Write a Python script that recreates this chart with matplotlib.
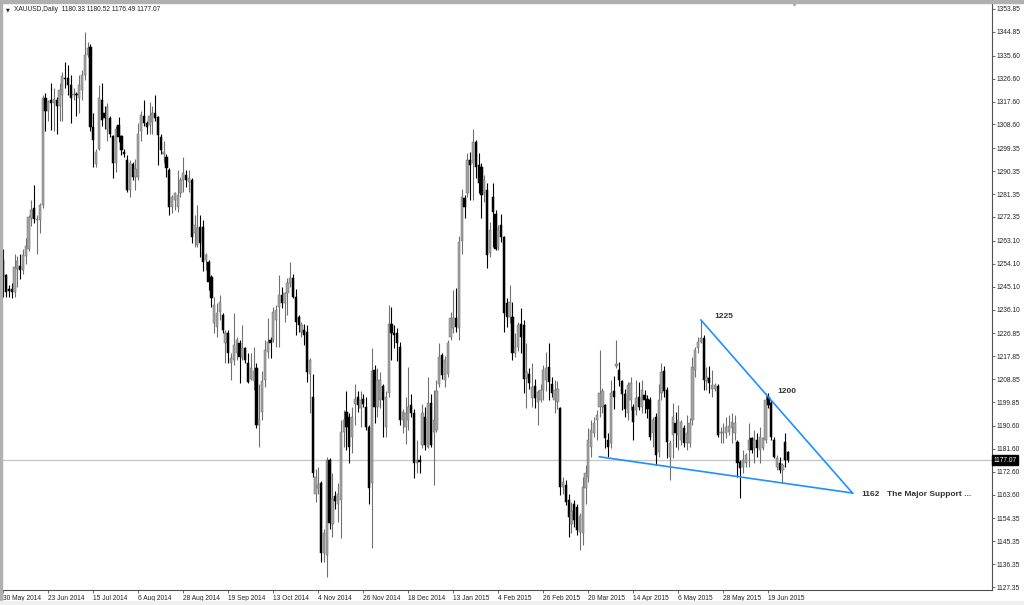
import matplotlib
matplotlib.use('Agg')  # 无显示环境
import matplotlib.pyplot as plt
from matplotlib.patches import Rectangle
import numpy as np

plt.rcParams['font.family'] = ['Liberation Sans', 'DejaVu Sans']

# 数据: XAUUSD 日线
symbol = "XAUUSD,Daily"

opens = [
    1255.5, 1249.6, 1244, 1244, 1243, 1252, 1253, 1251.5, 1257, 1260,
    1272, 1276, 1271, 1271, 1277, 1319, 1314, 1318, 1317, 1318,
    1316, 1320, 1327, 1327, 1324, 1320, 1320.5, 1319, 1322, 1328,
    1336, 1339, 1307.8, 1293, 1299, 1318, 1313, 1307, 1311, 1304,
    1293.5, 1308.5, 1304, 1298, 1294.7, 1283, 1293, 1288, 1288, 1306,
    1312, 1309, 1308.5, 1309.5, 1313, 1311.5, 1303.8, 1297, 1296, 1290.8,
    1276.4, 1279, 1276.4, 1281.6, 1286.8, 1288.8, 1286, 1286.8, 1266, 1261.3,
    1268.6, 1268.6, 1255.5, 1254.9, 1249, 1231, 1229.4, 1235, 1233.9, 1222.9,
    1226.8, 1215, 1216.3, 1219, 1222.9, 1217.6, 1220.9, 1215, 1209, 1208,
    1213, 1191, 1196, 1208.5, 1219.6, 1224.2, 1224.2, 1232, 1237.2, 1241.8,
    1238.5, 1242.4, 1246.4, 1248.3, 1241.1, 1233.3, 1227.4, 1228, 1227.4, 1211,
    1201.9, 1164, 1166, 1168, 1140.6, 1140, 1177, 1152, 1163, 1160,
    1161.4, 1188, 1196, 1194, 1186, 1199, 1202, 1197.4, 1201, 1198,
    1190.2, 1168, 1212.4, 1198, 1200.6, 1206, 1190, 1203.3, 1230.6, 1227,
    1227, 1221.5, 1192.8, 1190, 1193, 1198.6, 1195.4, 1176, 1177, 1183,
    1194, 1182.4, 1199.3, 1188, 1188.9, 1207, 1218.2, 1208.5, 1211, 1225.5,
    1228.7, 1232.6, 1228.7, 1263, 1279.6, 1281.6, 1294.7, 1293.4, 1301.9, 1292.7,
    1292, 1281.6, 1283, 1258.1, 1280, 1273.7, 1260.7, 1269.2, 1264.6, 1238.5,
    1233, 1233.3, 1219, 1221.6, 1230.6, 1230, 1209.1, 1211, 1201.3, 1206,
    1200, 1200.6, 1204.6, 1208.5, 1213.7, 1207, 1200.6, 1200, 1197.4, 1166.7,
    1167.4, 1161.5, 1152, 1160, 1158.8, 1149, 1148.4, 1166, 1170.6, 1182.4,
    1187.6, 1192.8, 1198, 1198, 1198.7, 1185, 1183.7, 1204, 1214, 1212.4,
    1208, 1203, 1195.4, 1200.6, 1198, 1196.7, 1202, 1198, 1202.6, 1201,
    1200.6, 1187.6, 1194, 1180.4, 1203.2, 1212, 1204.6, 1178.5, 1187, 1191.5,
    1187, 1185, 1189.5, 1183.7, 1183.7, 1192.8, 1212.4, 1220.9, 1223.5, 1224.8,
    1208, 1209.1, 1205, 1205, 1206, 1187.6, 1187.6, 1187.6, 1188, 1189.5,
    1187.6, 1184.3, 1176.5, 1174.5, 1175.8, 1181, 1185.6, 1181.7, 1185, 1181,
    1181.7, 1185, 1201.9, 1199.3, 1185, 1174.5, 1175.8, 1173.2, 1184.3, 1180.33,
]

highs = [
    1260, 1250, 1245.7, 1246.5, 1258, 1257, 1258, 1260, 1264, 1273,
    1279, 1285, 1273, 1278, 1320, 1321, 1318, 1325, 1323, 1319.5,
    1325, 1329, 1333, 1332, 1328, 1323, 1321.5, 1328, 1330, 1345,
    1341, 1340, 1313, 1299, 1324, 1325, 1316, 1317, 1312, 1304.5,
    1308, 1311.6, 1304.5, 1299, 1296.7, 1294.7, 1294, 1295, 1309, 1314,
    1318, 1310, 1317.5, 1316, 1320, 1312, 1305, 1302, 1297, 1291.4,
    1281, 1282.3, 1290.8, 1288.1, 1296, 1290.8, 1290.8, 1287.5, 1273.1, 1277,
    1273, 1271.2, 1258.1, 1255.5, 1249.5, 1241, 1238.5, 1241.8, 1234.6, 1228,
    1228, 1219, 1234.6, 1225.5, 1224, 1230, 1221.6, 1218.9, 1218.9, 1221.6,
    1215, 1207, 1212, 1224, 1232.6, 1225.5, 1237.2, 1237.8, 1249.6, 1245,
    1243, 1248.3, 1254.8, 1250, 1244, 1234, 1231.3, 1230.6, 1230, 1217,
    1211, 1173.8, 1174.5, 1169, 1150, 1178.4, 1178, 1171.9, 1165, 1168,
    1192.8, 1196.7, 1204, 1195.4, 1198, 1207, 1204, 1204, 1203, 1202,
    1191, 1221, 1214.4, 1213, 1211.7, 1207, 1204, 1237.8, 1237, 1230,
    1229, 1223.5, 1197, 1201.9, 1213.7, 1203, 1197, 1185, 1179, 1199,
    1198, 1209.8, 1203, 1204.6, 1208.5, 1222.9, 1218.9, 1218, 1224, 1235.2,
    1243.7, 1244.4, 1265, 1283.5, 1281, 1297.3, 1297.9, 1307, 1302.5, 1297.3,
    1293.4, 1288.8, 1285.5, 1270.5, 1285.5, 1275, 1269.2, 1273.7, 1265, 1240.5,
    1245.7, 1239, 1226.8, 1231.3, 1236.5, 1232, 1222.9, 1213, 1215, 1209,
    1204.6, 1207, 1214.4, 1219.6, 1222.9, 1209.8, 1208.5, 1208, 1198, 1170.6,
    1169.3, 1164, 1160.8, 1161.5, 1160, 1156.2, 1170.6, 1175.2, 1189.5, 1192.8,
    1194, 1196.7, 1220.2, 1205.2, 1199, 1187.6, 1208.5, 1210, 1224.1, 1215.7,
    1208.5, 1205, 1207.8, 1209.8, 1199, 1208.5, 1207.8, 1208.5, 1204.6, 1202.6,
    1201.9, 1194, 1195.4, 1207, 1215, 1214, 1205.9, 1185, 1199.3, 1196,
    1198.7, 1193, 1190.8, 1194.7, 1193.5, 1217.6, 1221.6, 1225.5, 1232, 1226,
    1213.7, 1214, 1212.4, 1207.2, 1207, 1190, 1191.5, 1194, 1194.7, 1195.4,
    1194.7, 1184.9, 1177, 1181, 1179.8, 1191.5, 1186.3, 1188.9, 1187.6, 1190.2,
    1186.3, 1203.2, 1203.2, 1200.6, 1186.3, 1179, 1178.4, 1175.8, 1187.6, 1180.52,
]

lows = [
    1241, 1241, 1241.1, 1240.5, 1241, 1245, 1248, 1250, 1254, 1259,
    1269, 1270, 1258, 1266, 1276, 1306, 1310, 1306.5, 1306, 1305,
    1310, 1310, 1323, 1320, 1309, 1318, 1312, 1313, 1318, 1326,
    1335, 1306, 1292, 1292, 1298.5, 1308, 1307, 1302, 1303.5, 1287.5,
    1290, 1301.9, 1296.6, 1296, 1282.3, 1280.3, 1286.8, 1283, 1287, 1302,
    1308, 1305, 1305, 1305, 1310, 1292.7, 1297, 1293.5, 1288.2, 1273.1,
    1273.8, 1275.1, 1274.4, 1280.3, 1282.3, 1284.2, 1282.3, 1262, 1260.7, 1260.7,
    1256.8, 1251, 1251.6, 1243.7, 1237.2, 1226.8, 1225.5, 1232, 1226.8, 1215,
    1215, 1208.5, 1214.4, 1216.3, 1207.2, 1216.3, 1215, 1207.2, 1208.5, 1204.6,
    1189.5, 1182.4, 1193, 1205.9, 1217, 1217, 1223.5, 1221.6, 1221.6, 1236.5,
    1231.3, 1234, 1245, 1240.5, 1226.1, 1227.4, 1225.5, 1222.2, 1207.8, 1195.4,
    1170.5, 1160.8, 1164, 1137.3, 1137, 1131.4, 1150, 1147, 1158, 1153,
    1146.4, 1182.4, 1181, 1175.8, 1180, 1190.8, 1196, 1190.2, 1198, 1189,
    1160, 1142.5, 1191.5, 1194, 1197.4, 1186.3, 1186.3, 1202, 1216.3, 1221,
    1216, 1190.8, 1187.6, 1183.6, 1188.9, 1194, 1169.9, 1172, 1172, 1181.7,
    1181, 1181.7, 1182.4, 1167.4, 1188.2, 1205.9, 1209, 1205.9, 1209.8, 1224,
    1226.8, 1227.4, 1224, 1258, 1271.8, 1280.3, 1279, 1279, 1287.5, 1281.6,
    1271.8, 1278.3, 1252.2, 1256.8, 1260.7, 1259.4, 1259.4, 1262.7, 1227.4, 1229.4,
    1231, 1216.3, 1217.6, 1220, 1218.9, 1203.3, 1197.4, 1205, 1198, 1197.4,
    1190.8, 1200, 1200.6, 1204, 1200.6, 1201.9, 1195.4, 1197, 1163.4, 1164,
    1159.5, 1147.1, 1148.4, 1151, 1147.7, 1141.9, 1143.8, 1160, 1168.6, 1178.4,
    1186.3, 1185, 1194, 1195.4, 1181.7, 1178.4, 1181.7, 1197, 1213, 1206,
    1196.7, 1194, 1192.8, 1196.7, 1185, 1194.7, 1196.7, 1195.4, 1195.4, 1193.5,
    1184.9, 1182.4, 1175.2, 1178.4, 1200.6, 1202, 1177.8, 1169.3, 1177.8, 1182.4,
    1181, 1183, 1182.4, 1181, 1182.4, 1190.8, 1209.8, 1219, 1222.9, 1204.6,
    1204.6, 1203.2, 1202, 1204, 1186.3, 1183.7, 1183.7, 1185.6, 1187, 1183.7,
    1185, 1170.6, 1162.1, 1171.9, 1174.5, 1174.5, 1179.8, 1175.8, 1178.4, 1175.8,
    1181, 1183.7, 1197.4, 1184.9, 1177.8, 1173.2, 1171.9, 1168, 1174.5, 1176.49,
]

closes = [
    1249, 1243, 1243.5, 1243, 1252.8, 1255, 1251.5, 1257.5, 1261, 1272.5,
    1275, 1271.5, 1271.5, 1277, 1319, 1314, 1317.5, 1317, 1318.5, 1316,
    1322, 1327.5, 1326.5, 1324, 1319, 1320.5, 1320, 1324, 1328, 1336,
    1338.5, 1307.5, 1302.5, 1298, 1319, 1310.5, 1311, 1315.5, 1305, 1293.5,
    1307, 1303.8, 1298.6, 1297, 1283, 1293.4, 1288, 1291, 1305, 1312.3,
    1309, 1307.8, 1312, 1313, 1311, 1304.5, 1298.6, 1298, 1291.4, 1276.4,
    1280.3, 1281.6, 1281, 1286.8, 1289.5, 1286.8, 1287.5, 1264.6, 1269.2, 1267.9,
    1262, 1254.9, 1257.5, 1247, 1240.5, 1238, 1234.6, 1239, 1228.1, 1226.8,
    1219, 1217, 1222.2, 1224, 1217.6, 1220.9, 1216.3, 1207.8, 1213, 1212,
    1190.8, 1193, 1208, 1220.2, 1223.5, 1222.9, 1235.3, 1236, 1241.8, 1238.5,
    1242.4, 1246.4, 1248.3, 1241.1, 1231.3, 1230, 1230, 1226.1, 1211.7, 1216.3,
    1171.9, 1170.5, 1167.4, 1140.6, 1148.4, 1177.1, 1152.3, 1162, 1161, 1164,
    1188.2, 1192.8, 1190, 1182.4, 1194, 1201, 1198.5, 1200.6, 1199, 1190.2,
    1166, 1212, 1198, 1208.5, 1208.5, 1200.6, 1202, 1230.6, 1226.8, 1226,
    1222.9, 1192.8, 1196, 1195.5, 1198, 1195.4, 1175.8, 1177, 1176.5, 1195.4,
    1183, 1199.3, 1183, 1192.8, 1204, 1217.6, 1210.4, 1216.3, 1222.9, 1232.6,
    1232.6, 1229.4, 1262.7, 1280, 1276.4, 1294.7, 1292.7, 1301.9, 1292.1, 1285.5,
    1281, 1286.8, 1257.5, 1267.3, 1274.4, 1260, 1267.3, 1264.6, 1234.6, 1233.3,
    1239, 1218.9, 1221.6, 1230, 1225.5, 1209, 1211.7, 1207.2, 1205.9, 1201.3,
    1203.9, 1204.6, 1212.4, 1213, 1207.8, 1203.2, 1204.6, 1205, 1166.7, 1168.6,
    1160.8, 1154.9, 1157, 1153.6, 1149.7, 1155, 1166.7, 1171.9, 1185, 1188.9,
    1191.5, 1194.7, 1203.2, 1204, 1185.6, 1182.4, 1203.2, 1202, 1214.8, 1208.5,
    1203, 1197, 1206.5, 1207.2, 1192, 1201.3, 1198, 1204.6, 1200.6, 1197,
    1186.3, 1192.8, 1179.1, 1200.6, 1211.7, 1204, 1184.3, 1183.7, 1194, 1187.6,
    1192.8, 1192, 1183.7, 1187.6, 1191.5, 1213.7, 1220.2, 1223.5, 1224.8, 1208.5,
    1209.8, 1207.2, 1206.5, 1206.5, 1186.9, 1188, 1188.2, 1190, 1190.5, 1192,
    1191.5, 1175.8, 1174, 1177, 1179, 1185, 1181, 1185, 1181.7, 1186.3,
    1185.6, 1200.6, 1198.7, 1186.3, 1178.4, 1177.8, 1173.2, 1175.2, 1177.1, 1177.07,
]

# 横轴日期标签 (每16根K线一个)
date_labels = [
    "30 May 2014", "23 Jun 2014", "15 Jul 2014", "6 Aug 2014", "28 Aug 2014",
    "19 Sep 2014", "13 Oct 2014", "4 Nov 2014", "26 Nov 2014", "18 Dec 2014",
    "13 Jan 2015", "4 Feb 2015", "26 Feb 2015", "20 Mar 2015", "14 Apr 2015",
    "6 May 2015", "28 May 2015", "19 Jun 2015",
]
label_step = 16

price_ticks = [
    1353.85, 1344.85, 1335.60, 1326.60, 1317.60, 1308.60, 1299.35, 1290.35,
    1281.35, 1272.35, 1263.10, 1254.10, 1245.10, 1236.10, 1226.85, 1217.85,
    1208.85, 1199.85, 1190.60, 1181.60, 1172.60, 1163.60, 1154.35, 1145.35,
    1136.35, 1127.35,
]

# 趋势线 (K线序号, 价格)
upper_line_x = [248, 301.9]
upper_line_y = [1232.0, 1164.2]
lower_line_x = [211.9, 301.9]
lower_line_y = [1178.4, 1164.2]

note_labels = ["1225", "1200", "1162"]
support_text = "The Major Support ..."

# 画布
W, H = 1024, 605
fig = plt.figure(figsize=(W / 100, H / 100), dpi=100)
fig.patch.set_facecolor('white')
ax = fig.add_axes([3 / W, (H - 590) / H, (992 - 3) / W, (590 - 3) / H])
ax.set_facecolor('white')

o = np.array(opens)
h = np.array(highs)
l = np.array(lows)
c = np.array(closes)
idx = np.arange(len(c))

up = c >= o
body_colors = np.where(up, '#a4a4a4', '#000000')
edge_colors = np.where(up, '#6e6e6e', '#000000')
wick_colors = np.where(up, '#707070', '#000000')

# 当前价水平线
ax.axhline(c[-1], color='#c8c8c8', linewidth=1.0, zorder=1)

# K线: 影线 + 实体
ax.vlines(idx, l, h, colors=wick_colors, linewidth=0.8, zorder=2)
body_bottom = np.minimum(o, c)
body_h = np.maximum(np.abs(c - o), 0.4)
ax.bar(idx, body_h, bottom=body_bottom, width=0.8, color=body_colors,
       edgecolor=edge_colors, linewidth=0.35, zorder=3)

# 趋势线
line_blue = '#1e90ff'
ax.plot(upper_line_x, upper_line_y, color=line_blue, linewidth=1.2, zorder=4)
ax.plot(lower_line_x, lower_line_y, color=line_blue, linewidth=1.2, zorder=4)

note_kw = dict(fontsize=6, fontweight='bold', color='#333333', va='center',
               ha='left', zorder=5)
ax.text(252.8, 1233.2, note_labels[0], **note_kw)
ax.text(275.2, 1203.8, note_labels[1], **note_kw)
ax.text(305.1, 1163.8, note_labels[2], **note_kw)
ax.text(314.3, 1163.8, support_text, **note_kw)

ax.set_xlim(-0.1, 351.5)
ax.set_ylim(1126.2, 1356.2)

# 坐标轴样式
for side in ['left', 'top']:
    ax.spines[side].set_visible(False)
for side in ['right', 'bottom']:
    ax.spines[side].set_color('#505050')
    ax.spines[side].set_linewidth(0.8)

ax.yaxis.tick_right()
ax.set_yticks(price_ticks)
ax.set_yticklabels([f"{v:.2f}" for v in price_ticks])
ax.tick_params(axis='y', direction='out', length=2.2, width=0.6, pad=1,
               labelsize=4.8, colors='#505050', labelcolor='#222222')

ax.set_xticks(np.arange(len(date_labels)) * label_step)
ax.set_xticklabels(date_labels)
ax.tick_params(axis='x', direction='out', length=2.2, width=0.6, pad=1.2,
               labelsize=4.8, colors='#505050', labelcolor='#222222')
for lbl in ax.get_xticklabels():
    lbl.set_horizontalalignment('left')

# 当前价标签 (黑底白字)
ax.annotate(f"{c[-1]:.2f}", xy=(1, c[-1]), xycoords=('axes fraction', 'data'),
            xytext=(1.2, 0), textcoords='offset points', ha='left', va='center',
            fontsize=4.8, color='white', annotation_clip=False, zorder=6,
            bbox=dict(boxstyle='square,pad=0.25', fc='black', ec='black'))

# 图表平移标记
ax.plot([281], [1], marker='v', markersize=3.5, color='#a8a8a8',
        transform=ax.get_xaxis_transform(), clip_on=False)

# 窗口边框
fig.patches.append(Rectangle((0, 0), 2 / W, 1, transform=fig.transFigure,
                             color='#b0b0b0', zorder=0))
fig.patches.append(Rectangle((0, 1 - 3 / H), 1, 3 / H, transform=fig.transFigure,
                             color='#b0b0b0', zorder=0))
fig.patches.append(Rectangle((0, 0), 1, 4 / H, transform=fig.transFigure,
                             color='#f0f0f0', zorder=0))

# 左上角标题
fig.text(6 / W, 1 - 9.5 / H, "\u25bc", fontsize=3.5, color='#222222',
         va='center', ha='left', family=['DejaVu Sans'])
title = f"{symbol}  {o[-1]:.2f} {h[-1]:.2f} {l[-1]:.2f} {c[-1]:.2f}"
fig.text(14 / W, 1 - 9.5 / H, title, fontsize=4.8, color='#222222',
         va='center', ha='left')

fig.savefig("out.png", dpi=100)
plt.close(fig)
